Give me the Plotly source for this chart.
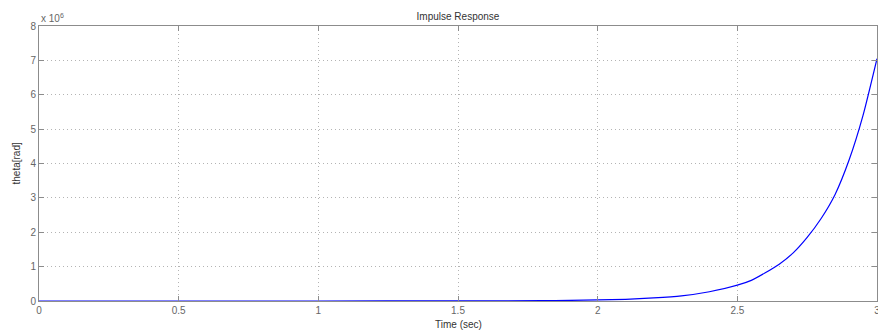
import plotly.graph_objects as go

time_sec = [0.0, 0.5, 1.0, 1.5, 1.8, 1.9, 2.0, 2.1, 2.2, 2.3, 2.4, 2.5, 2.55, 2.6, 2.65,
            2.7, 2.75, 2.8, 2.85, 2.9, 2.95, 3.0]
theta_e6 = [0.0, 0.0, 0.0003, 0.002, 0.01, 0.017, 0.03, 0.05, 0.09, 0.15, 0.27, 0.46, 0.6,
            0.82, 1.07, 1.4, 1.85, 2.4, 3.1, 4.1, 5.4, 7.05]
x_ticks = [0, 0.5, 1, 1.5, 2, 2.5, 3]
x_tick_labels = ["0", "0.5", "1", "1.5", "2", "2.5", "3"]
y_ticks = [0, 1, 2, 3, 4, 5, 6, 7, 8]
y_tick_labels = ["0", "1", "2", "3", "4", "5", "6", "7", "8"]

FONT = "Liberation Sans, Arial"
FIG_W, FIG_H = 878, 333
ML, MR, MT, MB = 39, 1, 26, 32
PLOT_H = FIG_H - MT - MB
PLOT_W = FIG_W - ML - MR

fig = go.Figure()
fig.add_trace(go.Scatter(x=time_sec, y=theta_e6, mode="lines",
                         line=dict(color="#0000ff", width=1.2, shape="spline", smoothing=0.6),
                         showlegend=False))

axis_common = dict(
    showline=True, linecolor="#8c8c8c", linewidth=1, mirror="ticks",
    ticks="inside", ticklen=5, tickcolor="#8c8c8c",
    showgrid=True, gridcolor="#b4b4b4", griddash="1px,3px", gridwidth=1,
    zeroline=False, automargin=False, ticklabeloverflow="allow",
    tickfont=dict(family=FONT, size=10, color="#666666"),
)

fig.update_layout(
    width=FIG_W, height=FIG_H,
    margin=dict(l=ML, r=MR, t=MT, b=MB, autoexpand=False),
    paper_bgcolor="white", plot_bgcolor="white",
    title=dict(text="Impulse Response", x=0.5, xanchor="center", xref="paper",
               y=1 - 16 / FIG_H, yanchor="middle",
               font=dict(family=FONT, size=10, color="#333333")),
    xaxis=dict(range=[0, 3], tickvals=x_ticks, ticktext=x_tick_labels, **axis_common),
    yaxis=dict(range=[0, 8], tickvals=y_ticks, ticktext=y_tick_labels, **axis_common),
    annotations=[
        dict(text="x 10<sup>6</sup>", xref="paper", yref="paper", x=0, y=1,
             xanchor="left", yanchor="bottom", showarrow=False,
             font=dict(family=FONT, size=10, color="#666666")),
        dict(text="Time (sec)", xref="paper", yref="paper", x=0.5, y=-23 / PLOT_H,
             xanchor="center", yanchor="middle", showarrow=False,
             font=dict(family=FONT, size=10, color="#333333")),
        dict(text="theta[rad]", xref="paper", yref="paper", x=-23 / PLOT_W, y=0.5,
             xanchor="center", yanchor="middle", showarrow=False, textangle=-90,
             font=dict(family=FONT, size=10, color="#333333")),
    ],
)

fig.write_html("out.html", config={"displayModeBar": False},
               post_script="document.body.style.margin='0';document.body.style.overflow='hidden';")
